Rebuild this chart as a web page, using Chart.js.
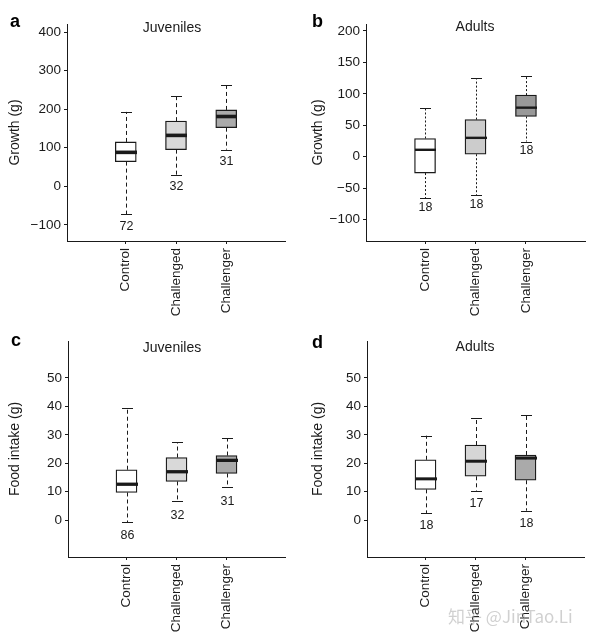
<!DOCTYPE html>
<html>
<head>
<meta charset="utf-8">
<script src="https://cdn.jsdelivr.net/npm/chart.js@4"></script>
<style>
  html, body { margin: 0; padding: 0; background: #fff; }
  #wrap { position: relative; width: 595px; height: 639px; overflow: hidden; }
  #wrap canvas { position: absolute; }
  #mark {
    position: absolute; left: 448px; top: 603px;
    font: 17px "Noto Sans CJK SC", "Liberation Sans", sans-serif;
    color: rgba(150, 150, 150, 0.45); white-space: nowrap;
  }
</style>
</head>
<body>
<div id="wrap">
  <canvas id="panelA" width="297" height="320" style="left:0;top:0"></canvas>
  <canvas id="panelB" width="298" height="320" style="left:297px;top:0"></canvas>
  <canvas id="panelC" width="297" height="319" style="left:0;top:320px"></canvas>
  <canvas id="panelD" width="298" height="319" style="left:297px;top:320px"></canvas>
  <div id="mark">知乎 @JinTao.Li</div>
</div>
<script>
// groups, shared by all four panels
var groups = ["Control", "Challenged", "Challenger"];

// a: juvenile growth (g)
var juvGrowthLow = [-73, 30, 95];
var juvGrowthQ1 = [64, 95, 152];
var juvGrowthMedian = [88, 132, 181];
var juvGrowthQ3 = [115, 169, 198];
var juvGrowthHigh = [193, 234, 262];
var juvGrowthN = [72, 32, 31];
var growthTicksA = [-100, 0, 100, 200, 300, 400];

// b: adult growth (g)
var adultGrowthLow = [-66, -61, 24];
var adultGrowthQ1 = [-26, 4, 64];
var adultGrowthMedian = [11, 30, 78];
var adultGrowthQ3 = [29, 59, 98];
var adultGrowthHigh = [77, 125, 129];
var adultGrowthN = [18, 18, 18];
var growthTicksB = [-100, -50, 0, 50, 100, 150, 200];

// c: juvenile food intake (g)
var juvFoodLow = [-0.7, 6.6, 11.5];
var juvFoodQ1 = [9.7, 13.6, 16.4];
var juvFoodMedian = [12.6, 17, 21];
var juvFoodQ3 = [17.7, 22, 22.7];
var juvFoodHigh = [39.5, 27.3, 28.7];
var juvFoodN = [86, 32, 31];

// d: adult food intake (g)
var adultFoodLow = [2.5, 10.3, 3.3];
var adultFoodQ1 = [10.8, 15.4, 14];
var adultFoodMedian = [14.5, 20.7, 21.8];
var adultFoodQ3 = [21.2, 26.4, 22.9];
var adultFoodHigh = [29.7, 35.9, 37.1];
var adultFoodN = [18, 17, 18];
var foodTicks = [0, 10, 20, 30, 40, 50];

var FONT = "'Liberation Sans', Arial, Helvetica, sans-serif";
var INK = "#1a1a1a";

// whiskers, caps, medians, n labels, panel letter and title
var boxExtras = {
  id: "boxExtras",
  afterDatasetsDraw: function (chart, args, o) {
    var ctx = chart.ctx;
    var xs = chart.scales.x;
    var ys = chart.scales.y;
    var half = o.boxWidth / 2;
    ctx.save();
    ctx.strokeStyle = INK;
    ctx.lineCap = "butt";
    function line(x1, y1, x2, y2) {
      ctx.beginPath();
      ctx.moveTo(x1, y1);
      ctx.lineTo(x2, y2);
      ctx.stroke();
    }
    for (var i = 0; i < o.median.length; i++) {
      var px = Math.round(xs.getPixelForValue(i + 1)) + 0.5;
      var yLo = ys.getPixelForValue(o.low[i]);
      var yQ1 = ys.getPixelForValue(o.q1[i]);
      var yQ3 = ys.getPixelForValue(o.q3[i]);
      var yHi = ys.getPixelForValue(o.high[i]);
      var yMed = ys.getPixelForValue(o.median[i]);

      ctx.lineWidth = 1;
      ctx.setLineDash(o.dash);
      line(px, yQ3, px, yHi);
      line(px, yQ1, px, yLo);
      ctx.setLineDash([]);
      line(px - 5.5, Math.round(yHi) + 0.5, px + 5.5, Math.round(yHi) + 0.5);
      line(px - 5.5, Math.round(yLo) + 0.5, px + 5.5, Math.round(yLo) + 0.5);

      ctx.lineWidth = o.medianWidth;
      line(px - half, yMed, px + half, yMed);

      ctx.fillStyle = INK;
      ctx.font = "12.5px " + FONT;
      ctx.textAlign = "center";
      ctx.textBaseline = "middle";
      ctx.fillText(String(o.n[i]), px, yLo + o.nGap);
    }
    ctx.restore();
  },
  afterDraw: function (chart, args, o) {
    var ctx = chart.ctx;
    ctx.save();
    ctx.fillStyle = "#000";
    ctx.textBaseline = "alphabetic";
    ctx.textAlign = "left";
    ctx.font = "bold 18px " + FONT;
    ctx.fillText(o.letter, o.letterX, o.letterY);
    ctx.fillStyle = INK;
    ctx.textAlign = "center";
    ctx.font = "14px " + FONT;
    ctx.fillText(o.title, o.titleX, o.titleY);
    ctx.restore();
  },
};

function minusSign(v) {
  return String(v).replace("-", "\u2212");
}

function makePanel(id, p) {
  var boxes = groups.map(function (g, i) {
    return { x: i + 1, y: [p.q1[i], p.q3[i]] };
  });
  new Chart(document.getElementById(id), {
    type: "bar",
    data: {
      datasets: [
        {
          data: boxes,
          backgroundColor: p.fills,
          borderColor: INK,
          borderWidth: 1.3,
          borderSkipped: false,
          barThickness: 21,
        },
      ],
    },
    plugins: [boxExtras],
    options: {
      responsive: false,
      animation: false,
      events: [],
      layout: { padding: { top: p.padTop, right: p.padRight, left: 0, bottom: 0 } },
      plugins: {
        legend: { display: false },
        tooltip: { enabled: false },
        boxExtras: {
          low: p.low, q1: p.q1, median: p.median, q3: p.q3, high: p.high, n: p.n,
          boxWidth: 21, medianWidth: p.medianWidth, dash: p.dash, nGap: p.nGap,
          letter: p.letter, letterX: p.letterX, letterY: p.letterY,
          title: p.title, titleX: p.titleX, titleY: p.titleY,
        },
      },
      scales: {
        x: {
          type: "linear",
          offset: false,
          min: -0.17,
          max: 4.17,
          afterBuildTicks: function (s) {
            s.ticks = groups.map(function (g, i) { return { value: i + 1 }; });
          },
          afterFit: function (s) { s.height = p.xHeight; },
          ticks: {
            autoSkip: false,
            minRotation: 90,
            maxRotation: 90,
            padding: 4,
            color: INK,
            font: { family: FONT, size: 13.5 },
            callback: function (v) { return groups[v - 1] || ""; },
          },
          grid: { offset: false, drawOnChartArea: false, tickLength: 3, color: INK },
          border: { color: INK, width: 1 },
        },
        y: {
          min: p.yMin,
          max: p.yMax,
          afterBuildTicks: function (s) {
            s.ticks = p.ticks.map(function (v) { return { value: v }; });
          },
          afterFit: function (s) { s.width = p.yWidth; },
          ticks: {
            padding: 3,
            color: INK,
            font: { family: FONT, size: 13.5 },
            callback: function (v) { return minusSign(v); },
          },
          grid: { drawOnChartArea: false, tickLength: 3, color: INK },
          border: { color: INK, width: 1 },
          title: {
            display: true,
            text: p.yTitle,
            color: INK,
            font: { family: FONT, size: 14 },
            padding: { top: p.yTitlePad, bottom: 0 },
          },
        },
      },
    },
  });
}

makePanel("panelA", {
  low: juvGrowthLow, q1: juvGrowthQ1, median: juvGrowthMedian, q3: juvGrowthQ3,
  high: juvGrowthHigh, n: juvGrowthN, ticks: growthTicksA,
  yMin: -142, yMax: 421, yTitle: "Growth (g)",
  fills: ["#ffffff", "#d9d9d9", "#aaaaaa"],
  medianWidth: 3.6, dash: [4, 3], nGap: 12,
  padTop: 24, padRight: 12, yWidth: 67, xHeight: 79, yTitlePad: 7,
  letter: "a", letterX: 10, letterY: 27,
  title: "Juveniles", titleX: 172, titleY: 31.5,
});

makePanel("panelB", {
  low: adultGrowthLow, q1: adultGrowthQ1, median: adultGrowthMedian, q3: adultGrowthQ3,
  high: adultGrowthHigh, n: adultGrowthN, ticks: growthTicksB,
  yMin: -134, yMax: 211, yTitle: "Growth (g)",
  fills: ["#ffffff", "#cccccc", "#999999"],
  medianWidth: 2.4, dash: [2, 2], nGap: 9,
  padTop: 24, padRight: 10, yWidth: 69, xHeight: 79, yTitlePad: 13,
  letter: "b", letterX: 15, letterY: 27,
  title: "Adults", titleX: 178, titleY: 31,
});

makePanel("panelC", {
  low: juvFoodLow, q1: juvFoodQ1, median: juvFoodMedian, q3: juvFoodQ3,
  high: juvFoodHigh, n: juvFoodN, ticks: foodTicks,
  yMin: -13, yMax: 63, yTitle: "Food intake (g)",
  fills: ["#ffffff", "#d9d9d9", "#aaaaaa"],
  medianWidth: 3.3, dash: [4, 3], nGap: 14,
  padTop: 21, padRight: 12, yWidth: 68, xHeight: 82, yTitlePad: 7,
  letter: "c", letterX: 11, letterY: 26,
  title: "Juveniles", titleX: 172, titleY: 31.5,
});

makePanel("panelD", {
  low: adultFoodLow, q1: adultFoodQ1, median: adultFoodMedian, q3: adultFoodQ3,
  high: adultFoodHigh, n: adultFoodN, ticks: foodTicks,
  yMin: -13, yMax: 63, yTitle: "Food intake (g)",
  fills: ["#ffffff", "#d6d6d6", "#aaaaaa"],
  medianWidth: 3, dash: [4, 3], nGap: 12.5,
  padTop: 21, padRight: 11, yWidth: 70, xHeight: 82, yTitlePad: 13,
  letter: "d", letterX: 15, letterY: 28,
  title: "Adults", titleX: 178, titleY: 31,
});
</script>
</body>
</html>
